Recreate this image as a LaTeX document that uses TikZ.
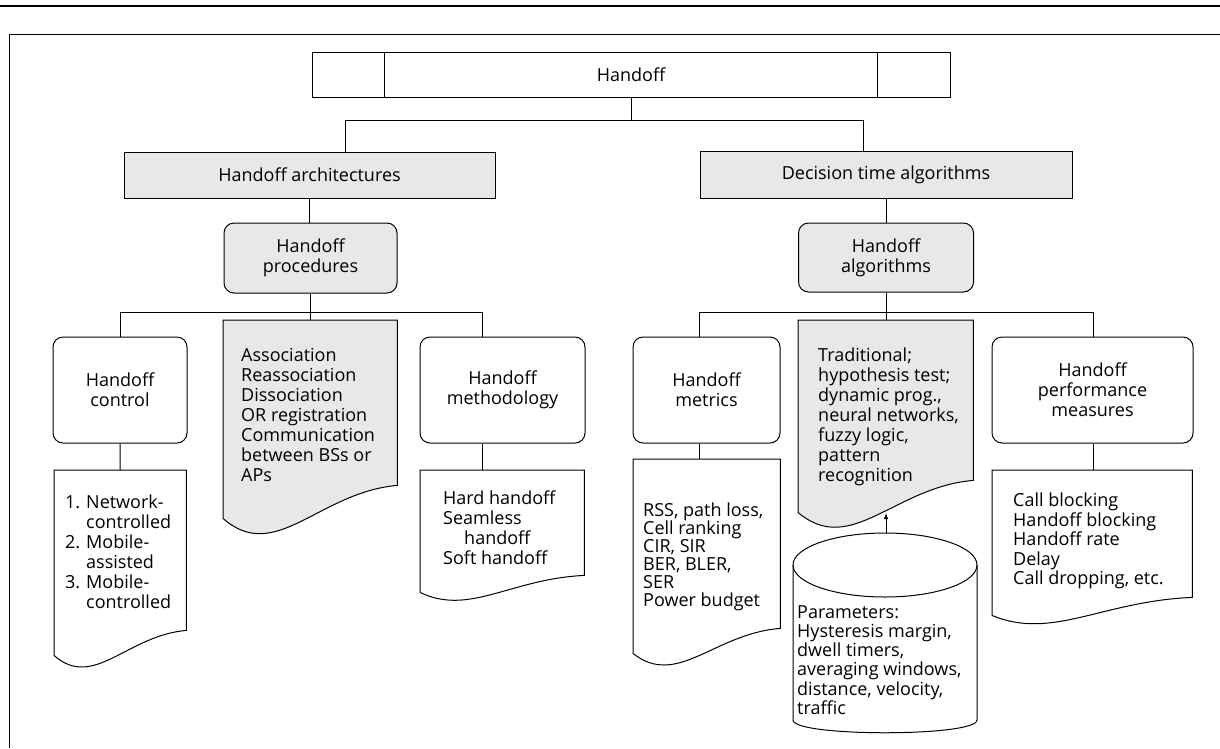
\documentclass[tikz,border=0pt]{standalone}
\usepackage{fontspec}
\setmainfont{Open Sans}
\usetikzlibrary{calc,arrows.meta}

% Document symbol: rectangle whose bottom edge is a wave; #2 is a placeholder
% node giving the rectangle (top edge to right-hand bottom corner), #3 how far
% the left-hand bottom corner drops below the right-hand one.
\newcommand\hodoc[3][]{%
  \path[#1] let \p1=(#2.north west), \p2=(#2.south east), \n1={\x2-\x1} in
    (\p1) -- (\x2,\y1) -- (\p2)
    .. controls ({\x1+0.55*\n1},{\y2-0.2*#3}) and ({\x1+0.3*\n1},{\y2-2.4*#3})
    .. ({\x1},{\y2-#3}) -- cycle;}

% text size with a fixed line pitch
\newcommand\txtsize[1]{\fontsize{18}{#1}\selectfont\lineskiplimit=-20pt\relax}
% numbered item with hanging indent
\newcommand\numitem[1]{\makebox[21pt][l]{#1}}
\newcommand\hang{\hspace*{21pt}}

\begin{document}
\begin{tikzpicture}[x=1pt,y=-1pt,
  every node/.style={font=\txtsize{20}, inner sep=0pt},
  line/.style={line width=1pt},
  shade/.style={fill=black!9},
  flatbox/.style={draw, line width=1pt, rectangle, align=center},
  roundbox/.style={draw, line width=1pt, rectangle, rounded corners=10pt, align=center},
  place/.style={rectangle, anchor=north west},
  listtext/.style={anchor=west, align=left},
]
\useasboundingbox (0,0) rectangle (1220,748);

% page rules and frame
\draw[line width=1.6pt] (0,6) -- (1220,6);
\draw[line width=0.9pt] (9,748) -- (9,34) -- (1220,34);

% ---- top level ----
\node[flatbox, minimum width=638pt, minimum height=45pt] (hand) at (631,74.5) {Handoff};
\draw[line] ([xshift=73pt]hand.north west) -- ([xshift=73pt]hand.south west);
\draw[line] ([xshift=-73pt]hand.north east) -- ([xshift=-73pt]hand.south east);

\node[flatbox, shade, minimum width=371pt, minimum height=46pt] (arch) at (309.5,175) {Handoff architectures};
\node[flatbox, shade, minimum width=372pt, minimum height=47pt] (dec) at (886,174.5) {Decision time algorithms};

\node[roundbox, shade, minimum width=173pt, minimum height=70pt] (proc) at (310.5,258) {Handoff\\procedures};
\node[roundbox, shade, minimum width=175pt, minimum height=69pt] (alg) at (886,257.5) {Handoff\\algorithms};

% ---- third level boxes ----
\node[roundbox, minimum width=134pt, minimum height=106pt] (ctrl) at (120,390) {Handoff\\control};
\node[roundbox, minimum width=165pt, minimum height=106pt] (meth) at (502.5,390) {Handoff\\methodology};
\node[roundbox, minimum width=147pt, minimum height=106pt] (metr) at (706.5,390) {Handoff\\metrics};
\node[roundbox, minimum width=201pt, minimum height=106pt] (perf) at (1092.5,390) {Handoff\\performance\\measures};

% ---- document symbols ----
\node[place, minimum width=132pt, minimum height=160pt] (ctrldoc) at (54,470) {};
\node[place, minimum width=174pt, minimum height=165pt] (assocdoc) at (223,320) {};
\node[place, minimum width=164pt, minimum height=105pt] (methdoc) at (420,470) {};
\node[place, minimum width=147pt, minimum height=169pt] (metrdoc) at (633,459) {};
\node[place, minimum width=175pt, minimum height=160pt] (traddoc) at (798,320) {};
\node[place, minimum width=200pt, minimum height=127pt] (perfdoc) at (992,470) {};

\hodoc[draw, line]{ctrldoc}{25}
\hodoc[draw, line, shade]{assocdoc}{33}
\hodoc[draw, line]{methdoc}{17}
\hodoc[draw, line]{metrdoc}{25}
\hodoc[draw, line, shade]{traddoc}{32}
\hodoc[draw, line]{perfdoc}{18}

% ---- parameter store (cylinder) ----
\node[place, minimum width=184pt, minimum height=200pt] (params) at (793,533) {};
\draw[line] (885,565) ellipse [x radius=92, y radius=32];
\draw[line] (793,565) -- (793,720) .. controls (793,737) and (977,737) .. (977,720) -- (977,565);

% ---- texts of the documents ----
\node[listtext] (ctrltxt) at (65,552) {\numitem{1.}Network-\\\hang controlled\\\numitem{2.}Mobile-\\\hang assisted\\\numitem{3.}Mobile-\\\hang controlled};
\node[listtext] (assoctxt) at (241,415) {Association\\Reassociation\\Dissociation\\OR registration\\Communication\\between BSs or\\APs};
\node[listtext] (methtxt) at (443,527.5) {Hard handoff\\Seamless\\\hspace*{21pt}handoff\\Soft handoff};
\node[listtext, font=\txtsize{18}] (metrtxt) at (643,557) {RSS, path loss,\\Cell ranking\\CIR, SIR\\BER, BLER,\\SER\\Power budget};
\node[listtext] (tradtxt) at (818,417) {Traditional;\\hypothesis test;\\dynamic prog.,\\neural networks,\\fuzzy logic,\\pattern\\recognition};
\node[listtext, font=\txtsize{19.2}] (paramtxt) at (797,660) {Parameters:\\Hysteresis margin,\\dwell timers,\\averaging windows,\\distance, velocity,\\traffic};
\node[listtext, font=\txtsize{19.5}] (perftxt) at (1013,541) {Call blocking\\Handoff blocking\\Handoff rate\\Delay\\Call dropping, etc.};

% ---- connectors ----
\coordinate (busL) at (345,120);
\coordinate (busR) at (863,120);
\draw[line] (hand.south) -- (hand.south |- busL);
\draw[line] (arch.north -| busL) -- (busL) -- (busR) -- (dec.north -| busR);
\draw[line] (arch.south) -- (proc.north -| arch.south);
\draw[line] (dec.south) -- (alg.north);

\coordinate (pbL) at (120,312);
\coordinate (pbR) at (482,312);
\draw[line] (proc.south) -- (assocdoc.north -| proc.south);
\draw[line] (ctrl.north) -- (pbL) -- (pbR) -- (meth.north -| pbR);
\draw[line] (ctrl.south) -- (ctrldoc.north);
\draw[line] (meth.south -| pbR) -- (methdoc.north -| pbR);

\coordinate (abL) at (699,312);
\coordinate (abR) at (1093,312);
\draw[line] (alg.south) -- (traddoc.north -| alg.south);
\draw[line] (metr.north -| abL) -- (abL) -- (abR) -- (perf.north -| abR);
\draw[line] (metr.south -| abL) -- (metrdoc.north -| abL);
\draw[line] (perf.south -| abR) -- (perfdoc.north -| abR);

\coordinate (tradtip) at (886,513);
\draw[line, -{Latex[length=6pt,width=4.5pt]}] (params.north -| tradtip) -- (tradtip);
\end{tikzpicture}
\end{document}
